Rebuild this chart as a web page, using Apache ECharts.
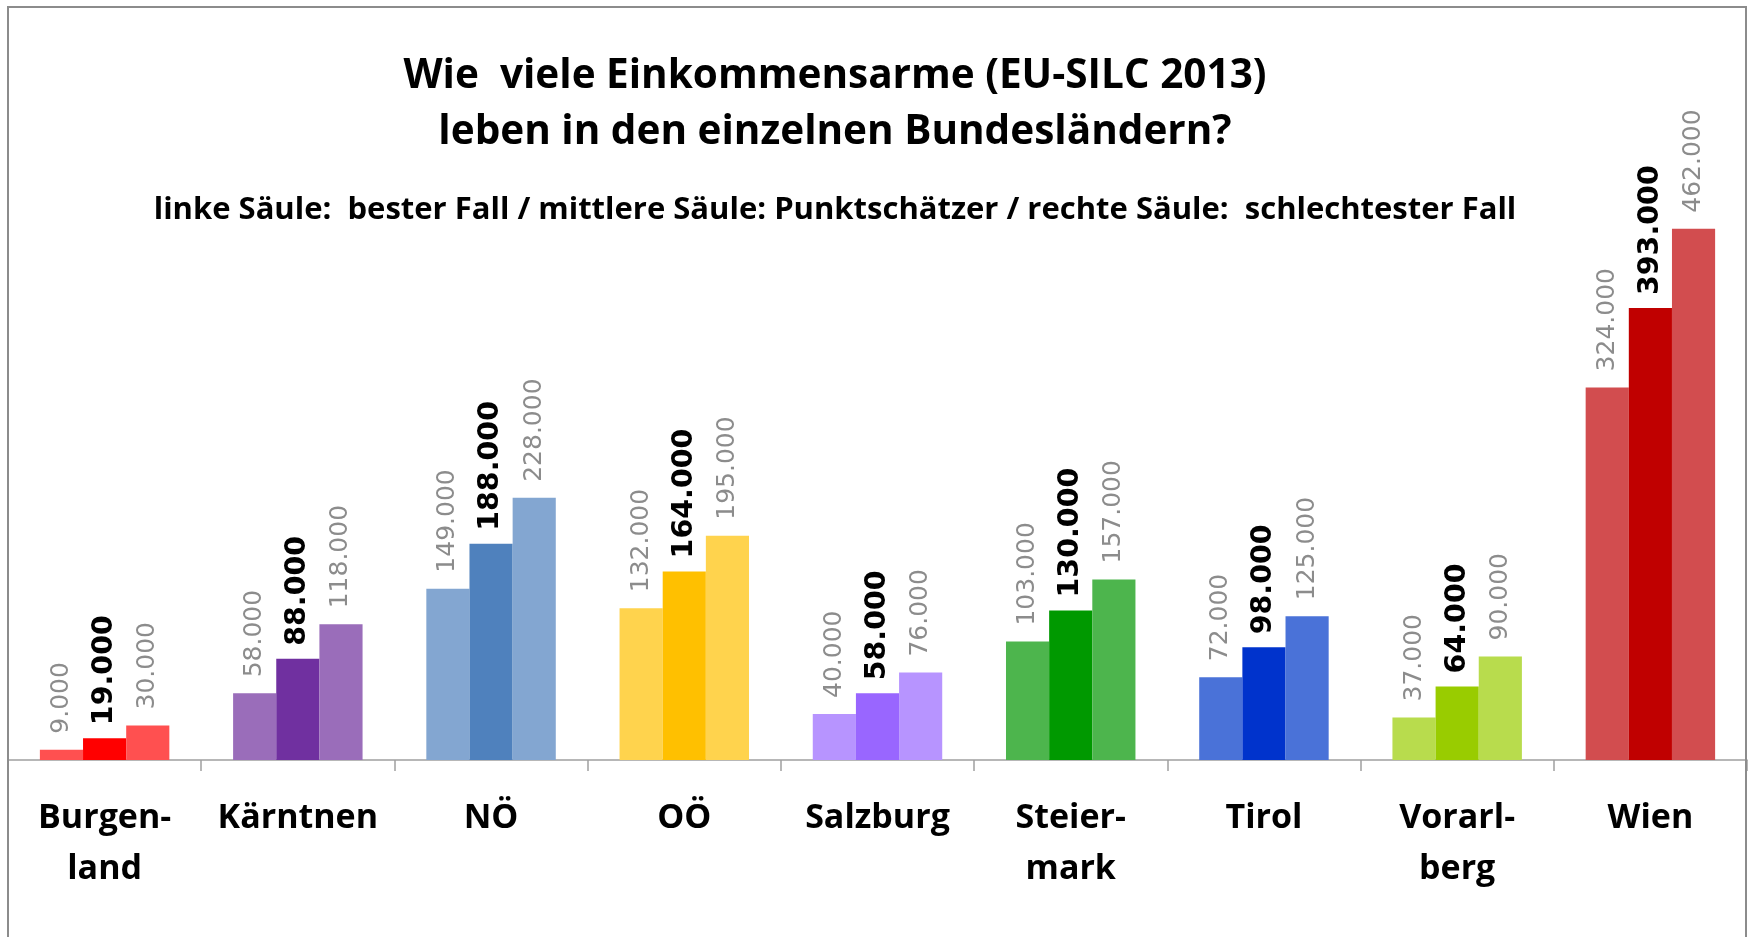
<!DOCTYPE html>
<html>
<head>
<meta charset="utf-8">
<script src="https://cdn.jsdelivr.net/npm/echarts@6/dist/echarts.min.js"></script>
<style>
  html, body { margin: 0; padding: 0; background: #fff; }
  #chart { width: 1748px; height: 937px; }
</style>
</head>
<body>
<div id="chart"></div>
<script>
// Bundesländer (Zeilenumbruch wie im Original)
const categories = ['Burgen-\nland', 'Kärntnen', 'NÖ', 'OÖ', 'Salzburg', 'Steier-\nmark', 'Tirol', 'Vorarl-\nberg', 'Wien']

// Einkommensarme in Tausend
const besterFall = [9, 58, 149, 132, 40, 103, 72, 37, 324]
const punktSchaetzer = [19, 88, 188, 164, 58, 130, 98, 64, 393]
const schlechtesterFall = [30, 118, 228, 195, 76, 157, 125, 90, 462]

// Farben je Bundesland: helle Außensäulen, kräftige Mittelsäule
const lightColors = ['#ff5050', '#9a6dba', '#83a6d1', '#ffd34d', '#b794ff', '#4db54d', '#4a72d8', '#b8dc4d', '#d24d4f']
const darkColors = ['#ff0000', '#7030a0', '#4f81bd', '#ffc000', '#9966ff', '#009900', '#0033cc', '#99cc00', '#c00000']

const chart = echarts.init(document.getElementById('chart'))

const fmt = p => p.value + '.000'

function makeSeries(name, data, colors, strong) {
  return {
    name: name,
    type: 'bar',
    data: data,
    barGap: '0%',
    barCategoryGap: '33%',
    itemStyle: {
      color: p => colors[p.dataIndex]
    },
    label: {
      show: true,
      position: 'top',
      rotate: 90,
      align: 'left',
      verticalAlign: 'middle',
      distance: strong ? 13 : 16,
      formatter: fmt,
      fontFamily: 'DejaVu Sans',
      fontSize: strong ? 28.5 : 25,
      fontWeight: strong ? 'bold' : 'normal',
      color: strong ? '#000' : '#8c8c8c'
    },
    animation: false
  }
}

chart.setOption({
  backgroundColor: '#fff',
  animation: false,
  grid: {
    left: 8,
    right: 1,
    top: 185,
    bottom: 177
  },
  xAxis: {
    type: 'category',
    data: categories,
    axisLine: { lineStyle: { color: '#a0a0a0', width: 1.5 } },
    axisTick: { show: true, length: 11, lineStyle: { color: '#a0a0a0', width: 1.5 } },
    axisLabel: {
      interval: 0,
      margin: 33,
      fontFamily: 'Open Sans',
      fontWeight: 'bold',
      fontSize: 34,
      lineHeight: 51,
      color: '#000'
    }
  },
  yAxis: {
    type: 'value',
    min: 0,
    max: 500,
    show: false
  },
  series: [
    makeSeries('linke Säule: bester Fall', besterFall, lightColors, false),
    makeSeries('mittlere Säule: Punktschätzer', punktSchaetzer, darkColors, true),
    makeSeries('rechte Säule: schlechtester Fall', schlechtesterFall, lightColors, false)
  ],
  graphic: [
    {
      type: 'rect',
      shape: { x: 8, y: 7, width: 1738, height: 1000 },
      style: { fill: 'none', stroke: '#8c8c8c', lineWidth: 2 },
      silent: true,
      z: 10
    },
    {
      type: 'text',
      x: 835,
      y: 76,
      style: {
        text: 'Wie  viele Einkommensarme (EU-SILC 2013)',
        fontFamily: 'Open Sans',
        fontWeight: 'bold',
        fontSize: 40.5,
        fill: '#000',
        align: 'center',
        verticalAlign: 'middle'
      }
    },
    {
      type: 'text',
      x: 835,
      y: 132,
      style: {
        text: 'leben in den einzelnen Bundesländern?',
        fontFamily: 'Open Sans',
        fontWeight: 'bold',
        fontSize: 40.5,
        fill: '#000',
        align: 'center',
        verticalAlign: 'middle'
      }
    },
    {
      type: 'text',
      x: 835,
      y: 210,
      style: {
        text: 'linke Säule:  bester Fall / mittlere Säule: Punktschätzer / rechte Säule:  schlechtester Fall',
        fontFamily: 'Open Sans',
        fontWeight: 'bold',
        fontSize: 31,
        fill: '#000',
        align: 'center',
        verticalAlign: 'middle'
      }
    }
  ]
})
</script>
</body>
</html>
